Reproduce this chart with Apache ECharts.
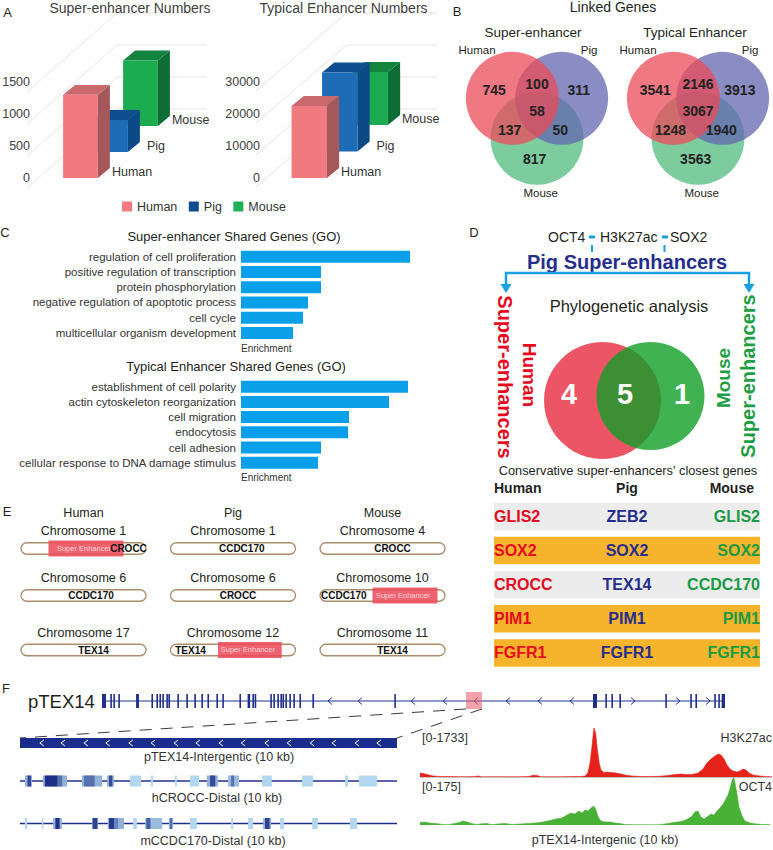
<!DOCTYPE html>
<html>
<head>
<meta charset="utf-8">
<script src="https://cdn.jsdelivr.net/npm/echarts@6.0.0/dist/echarts.min.js"></script>
<style>
html,body{margin:0;padding:0;background:#fff;}
#chart{width:773px;height:850px;}
</style>
</head>
<body>
<div id="chart"></div>
<script>
// ================= DATA =================
const species = ['Human', 'Pig', 'Mouse'];
const superEnhancerCounts = [1300, 500, 1025];
const typicalEnhancerCounts = [22500, 24700, 16600];
const superEnhancerTicks = [0, 500, 1000, 1500];
const typicalEnhancerTicks = [0, 10000, 20000, 30000];

// Venn regions: Human only, Human∩Pig, Pig only, all three, Human∩Mouse, Pig∩Mouse, Mouse only
const linkedGenesSuper = [745, 100, 311, 58, 137, 50, 817];
const linkedGenesTypical = [3541, 2146, 3913, 3067, 1248, 1940, 3563];

const goSuperTerms = ['regulation of cell proliferation', 'positive regulation of transcription', 'protein phosphorylation', 'negative regulation of apoptotic process', 'cell cycle', 'multicellular organism development'];
const goSuperEnrichment = [16.9, 8.0, 8.0, 6.7, 6.2, 5.2];
const goTypicalTerms = ['establishment of cell polarity', 'actin cytoskeleton reorganization', 'cell migration', 'endocytosis', 'cell adhesion', 'cellular response to DNA damage stimulus'];
const goTypicalEnrichment = [16.7, 14.8, 10.8, 10.7, 8.0, 7.7];

const phyloCounts = [4, 5, 1]; // human only, shared, mouse only
const closestHuman = ['GLIS2', 'SOX2', 'CROCC', 'PIM1', 'FGFR1'];
const closestPig = ['ZEB2', 'SOX2', 'TEX14', 'PIM1', 'FGFR1'];
const closestMouse = ['GLIS2', 'SOX2', 'CCDC170', 'PIM1', 'FGFR1'];

const chromHuman = ['Chromosome 1', 'Chromosome 6', 'Chromosome 17'];
const chromPig = ['Chromosome 1', 'Chromosome 6', 'Chromosome 12'];
const chromMouse = ['Chromosome 4', 'Chromosome 10', 'Chromosome 11'];
const chromGeneHuman = ['CROCC', 'CCDC170', 'TEX14'];
const chromGenePig = ['CCDC170', 'CROCC', 'TEX14'];
const chromGeneMouse = ['CROCC', 'CCDC170', 'TEX14'];
const chromGenePosHuman = [0.86, 0.56, 0.58];
const chromGenePosPig = [0.57, 0.54, 0.16];
const chromGenePosMouse = [0.58, 0.19, 0.58];
const chromSEHuman = [[0.22, 0.82], null, null];
const chromSEPig = [null, null, [0.38, 0.89]];
const chromSEMouse = [null, [0.42, 0.94], null];

const tex14Length = 389.4; // kb
const tex14Exons = [[0,2.5],[5.2,6.1],[7.1,8.0],[10.2,11.1],[21.3,23.1],[30.9,31.8],[34.0,34.9],[35.9,36.8],[37.7,38.6],[40.2,41.1],[41.5,42.4],[47.1,48.0],[52.7,53.6],[57.7,58.6],[62.1,63.0],[65.9,66.8],[71.5,72.4],[75.2,76.1],[85.9,86.8],[91.0,92.6],[94.0,94.9],[95.4,96.3],[105.2,106.1],[107.1,108.0],[109.6,110.5],[111.5,112.4],[112.8,113.7],[114.6,115.5],[117.1,118.0],[119.6,120.5],[123.4,124.3],[131.5,132.4],[182.7,183.6],[306.9,309.4],[314.6,315.5],[318.4,319.3],[323.4,324.3],[352.1,353.0],[367.7,368.6],[370.9,371.8],[382.7,383.6],[385.2,386.1],[387.3,389.4]];
const tex14ReverseMarks = [142.5, 161.3, 194.4, 214.4, 233.8, 253.8, 273.8, 293.8];
const tex14ForwardMarks = [331.9, 360.0, 378.8];
const zoomedRegion = [227.5, 237.5];
const intergenicMarks = [0.58, 1.14, 1.75, 2.33, 2.94, 3.53, 4.14, 4.72, 5.33, 5.92, 6.55, 7.14, 7.75, 8.33, 8.94, 9.52];
const hCroccBlocks = [[0.13,0.32,0.25],[0.2,0.29,0.85],[0.61,1.25,0.25],[0.66,1.0,0.95],[1.0,1.12,0.6],[1.64,2.18,0.25],[1.7,1.98,0.6],[2.31,2.49,0.25],[2.36,2.45,0.8],[2.92,3.21,0.05],[3.47,3.53,0.05],[4.11,4.16,0.05],[4.51,4.75,0.05],[4.96,5.25,0.25],[5.04,5.18,0.8],[5.52,5.81,0.2],[5.6,5.68,0.6],[6.42,6.68,0.05],[7.48,7.77,0.05],[8.62,8.7,0.05],[8.99,9.47,0.05]];
const mCcdcBlocks = [[0.13,0.19,0.05],[0.58,0.62,0.05],[0.88,1.11,0.25],[0.94,1.05,0.95],[1.91,2.07,0.3],[1.93,2.05,0.85],[2.33,2.76,0.25],[2.36,2.5,0.9],[2.5,2.6,0.5],[3.0,3.1,0.05],[3.32,3.77,0.2],[3.35,3.46,0.7],[3.95,4.06,0.25],[3.98,4.03,0.65],[4.51,4.69,0.05],[5.6,5.65,0.05],[6.05,6.18,0.05],[6.45,6.66,0.25],[6.5,6.62,0.85],[6.9,7.0,0.05],[7.75,7.9,0.05],[8.75,8.94,0.05]];
const h3k27acSignal = [[0,140],[0.09,124],[0.2,88],[0.34,42],[0.51,21],[0.85,14],[1.28,11],[1.55,14],[1.65,35],[1.76,7],[2.27,11],[2.84,11],[3.1,18],[3.21,64],[3.32,53],[3.44,11],[3.98,11],[4.55,18],[4.69,35],[4.77,140],[4.83,495],[4.89,1130],[4.94,1733],[4.99,1556],[5.03,1060],[5.09,495],[5.14,248],[5.23,160],[5.31,177],[5.43,160],[5.57,140],[5.71,106],[5.85,64],[6.02,35],[6.25,18],[6.53,14],[6.82,28],[7.05,53],[7.24,88],[7.39,106],[7.56,88],[7.73,88],[7.9,140],[8.04,283],[8.15,495],[8.27,637],[8.38,743],[8.47,814],[8.55,778],[8.64,637],[8.72,424],[8.81,283],[8.89,212],[9.0,177],[9.09,212],[9.18,283],[9.26,248],[9.35,140],[9.46,71],[9.6,42],[9.8,21],[10,11]];
const oct4Signal = [[0,9],[0.14,11],[0.28,7],[0.45,5.5],[0.63,2],[0.8,1],[0.99,5.5],[1.11,9],[1.22,14.6],[1.34,11],[1.45,5.5],[1.6,2],[1.76,4.4],[1.9,5.5],[2.05,1],[2.19,3.6],[2.41,5.5],[2.61,2],[2.84,3.6],[3.07,5.5],[3.3,7.3],[3.49,11],[3.69,16.4],[3.86,22],[4.03,25.5],[4.18,36.5],[4.29,43.8],[4.4,40],[4.52,51],[4.6,43.8],[4.69,54.7],[4.77,51],[4.86,62],[4.94,69],[5.0,54.7],[5.06,29],[5.14,14.6],[5.26,11],[5.4,11],[5.54,7.3],[5.68,5.5],[5.82,2],[6.1,1],[6.5,0.7],[6.8,1],[7.05,5.5],[7.19,9],[7.33,11],[7.47,14.6],[7.61,22],[7.73,33],[7.81,47.4],[7.9,51],[7.98,29],[8.07,22],[8.15,29],[8.27,40],[8.35,36.5],[8.44,51],[8.52,62],[8.61,76.6],[8.69,94.8],[8.75,109],[8.81,135],[8.86,160],[8.91,175],[8.95,153],[9.01,109],[9.06,65.6],[9.15,33],[9.23,14.6],[9.38,7.3],[9.55,3.6],[9.72,1.8],[9.94,1.8]];

// ================= STYLE / LAYOUT =================
const FONT = "'Liberation Sans', Arial, Helvetica, sans-serif";
const NARROW = "'Liberation Sans Narrow', 'Arial Narrow', 'Liberation Sans', Arial, sans-serif";
const INK = '#231F20';
const RED = '#E50A1E', NAVY = '#262E8C', GREEN = '#1E9E42';
const barFaces = [['#F07A7F', '#C9696D', '#A5585C'], ['#1E6BB6', '#0E4E90', '#0B4A86'], ['#1CAB50', '#12843E', '#0D6D35']];
const legendColors = ['#F07A7F', '#0F4C8E', '#1CB152'];
const vennFills = ['rgba(235,75,88,0.75)', 'rgba(99,102,176,0.75)', 'rgba(82,187,126,0.75)'];
const vennCenters = [[-0.53, 0.29], [0.53, 0.29], [0, -0.57]];
const vennRegionAnchors = [[-0.92, 0.47], [0, 0.6], [0.9, 0.47], [0, 0.02], [-0.59, -0.4], [0.5, -0.4], [-0.05, -1.02]];
const vennNameAnchors = [[-1.29, 1.33], [1.12, 1.33], [0.08, -1.75]];
const phyloCircles = [[-2.35, -0.25, 5.85], [2.45, 0.2, 5.4]];
const phyloFills = ['#EC5565', 'rgba(16,159,39,0.8)'];
const phyloAnchors = [[-5.7, 0.4], [-0.1, 0.4], [5.6, 0.4]];

const grids = [
  {id: 'aL', left: 65.5, top: 82, width: 90, height: 96},
  {id: 'aR', left: 294, top: 82, width: 91.5, height: 96},
  {id: 'bL', left: 462.6, top: 18.8, width: 148.8, height: 186},
  {id: 'bR', left: 623.6, top: 18.8, width: 148.8, height: 186},
  {id: 'c1', left: 241, top: 249, width: 170, height: 91.6},
  {id: 'c2', left: 241, top: 379.1, width: 170, height: 91.2},
  {id: 'dV', left: 566, top: 338, width: 120, height: 120},
  {id: 'dT', left: 494, top: 499.4, width: 266, height: 170.6},
  {id: 'e0', left: 21, top: 543.5, width: 448.5, height: 10},
  {id: 'e1', left: 21, top: 590.5, width: 448.5, height: 10},
  {id: 'e2', left: 21, top: 645, width: 448.5, height: 10},
  {id: 'fG', left: 102, top: 694, width: 623, height: 14},
  {id: 'fL1', left: 20, top: 738, width: 377, height: 10},
  {id: 'fL2', left: 20, top: 775.5, width: 377, height: 11},
  {id: 'fL3', left: 20, top: 818, width: 377, height: 11},
  {id: 'fH', left: 420, top: 728, width: 352, height: 49},
  {id: 'fO', left: 420, top: 777, width: 352, height: 48}
].map(g => Object.assign({containLabel: false, outerBoundsMode: 'none', show: false}, g));
const GI = {};
grids.forEach((g, i) => GI[g.id] = i);

function hidden(extra) {
  return Object.assign({show: false, axisLine: {show: false}, axisTick: {show: false}, axisLabel: {show: false}, splitLine: {show: false}}, extra);
}
const xAxes = [], yAxes = [];
function axes(id, x, y) {
  xAxes.push(Object.assign({gridIndex: GI[id]}, x));
  yAxes.push(Object.assign({gridIndex: GI[id]}, y));
}
const yLabel = (margin) => ({show: true, axisLine: {show: false}, axisTick: {show: false}, splitLine: {show: false},
  axisLabel: {show: true, margin: margin, fontSize: 12.5, color: '#404040', fontFamily: FONT, formatter: v => String(v)}});
axes('aL', hidden({type: 'category', data: species}), Object.assign({type: 'value', min: 0, max: 1500, interval: 500}, yLabel(35.5)));
axes('aR', hidden({type: 'category', data: species}), Object.assign({type: 'value', min: 0, max: 30000, interval: 10000}, yLabel(34)));
axes('bL', hidden({type: 'value', min: -1.6, max: 1.6}), hidden({type: 'value', min: -2, max: 2}));
axes('bR', hidden({type: 'value', min: -1.6, max: 1.6}), hidden({type: 'value', min: -2, max: 2}));
const goY = (terms) => ({type: 'category', data: terms, inverse: true, show: true, axisLine: {show: false}, axisTick: {show: false}, splitLine: {show: false},
  axisLabel: {show: true, interval: 0, margin: 5, fontSize: 11.5, color: '#333', fontFamily: FONT}});
axes('c1', hidden({type: 'value', min: 0, max: 17}), goY(goSuperTerms));
axes('c2', hidden({type: 'value', min: 0, max: 17}), goY(goTypicalTerms));
axes('dV', hidden({type: 'value', min: -6, max: 6}), hidden({type: 'value', min: -6, max: 6}));
axes('dT', hidden({type: 'value', min: 0, max: 1}), hidden({type: 'category', inverse: true, data: closestHuman.map((g, i) => 'row' + i)}));
['e0', 'e1', 'e2'].forEach(id => axes(id, hidden({type: 'value', min: 0, max: 3}), hidden({type: 'value', min: 0, max: 1})));
axes('fG', hidden({type: 'value', min: 0, max: tex14Length}), hidden({type: 'value', min: 0, max: 1}));
['fL1', 'fL2', 'fL3'].forEach(id => axes(id, hidden({type: 'value', min: 0, max: 10}), hidden({type: 'value', min: 0, max: 1})));
axes('fH', {type: 'value', min: 0, max: 10, show: true, axisLine: {show: true, onZero: false, lineStyle: {color: '#C4C4C4', width: 1}}, axisTick: {show: false}, axisLabel: {show: false}, splitLine: {show: false}},
  hidden({type: 'value', min: 0, max: 1733}));
axes('fO', hidden({type: 'value', min: 0, max: 10}), hidden({type: 'value', min: 0, max: 175}));

function txtStyle(text, size, o) {
  o = o || {};
  return {text: text, fill: o.color || INK, fontSize: size, fontWeight: o.weight || 'normal', fontFamily: o.family || FONT,
    align: o.align || 'center', verticalAlign: 'middle', textAlign: o.align || 'center', textVerticalAlign: 'middle'};
}
const series = [];
function onGrid(id, s) {
  series.push(Object.assign({xAxisIndex: GI[id], yAxisIndex: GI[id], silent: true, animation: false}, s));
}

// ---------- Panel A: pseudo-3D bars ----------
function gridLines3D(params, api) {
  const v = api.value(1);
  const p = api.coord([0, v]);
  const band = api.size([1, 0])[0];
  const x0 = p[0] - band * 1.75, y0 = p[1] + 9;
  const x1 = p[0] + band * 1.22, y1 = p[1] - 69;
  const x2 = p[0] + band * 4.2;
  return {type: 'polyline', shape: {points: [[x0, y0], [x1, y1], [x2, y1]]}, style: {stroke: '#E3E3E3', lineWidth: 1, fill: null}};
}
function bar3D(params, api) {
  const cat = api.value(0), v = api.value(1);
  const band = api.size([1, 0])[0];
  const pTop = api.coord([cat, v]), pBot = api.coord([cat, 0]);
  const shift = -band * 0.867 * cat;
  const w = band * 1.16, dx = band * 0.4, dy = -band * 0.33;
  const xl = pTop[0] - w / 2, xr = pTop[0] + w / 2, yt = pTop[1] + shift, yb = pBot[1] + shift;
  const f = barFaces[cat];
  return {type: 'group', children: [
    {type: 'polygon', shape: {points: [[xr, yt], [xr + dx, yt + dy], [xr + dx, yb + dy], [xr, yb]]}, style: {fill: f[2]}},
    {type: 'polygon', shape: {points: [[xl, yt], [xl + dx, yt + dy], [xr + dx, yt + dy], [xr, yt]]}, style: {fill: f[1]}},
    {type: 'rect', shape: {x: xl, y: yt, width: w, height: yb - yt}, style: {fill: f[0]}},
    {type: 'text', x: xr + 14 + (cat === 1 ? 5 : 0), y: yb - 6, style: txtStyle(species[cat], 12.5, {align: 'left', color: '#333'})}
  ]};
}
[['aL', superEnhancerCounts, superEnhancerTicks], ['aR', typicalEnhancerCounts, typicalEnhancerTicks]].forEach(([id, vals, ticks]) => {
  onGrid(id, {type: 'custom', name: 'grid3d', renderItem: gridLines3D, data: ticks.map(t => [0, t]), z: 1});
  [2, 1, 0].forEach(i => onGrid(id, {type: 'custom', name: species[i], itemStyle: {color: legendColors[i]}, renderItem: bar3D, data: [[i, vals[i]]]}));
});

// ---------- Panel B: Venn diagrams ----------
function vennCircle(params, api) {
  const c = api.coord([api.value(0), api.value(1)]);
  const r = api.size([1, 1])[0];
  return {type: 'circle', shape: {cx: c[0], cy: c[1], r: r}, style: {fill: vennFills[api.value(2)]}};
}
[['bL', linkedGenesSuper], ['bR', linkedGenesTypical]].forEach(([id, vals]) => {
  onGrid(id, {type: 'custom', renderItem: vennCircle, data: [2, 1, 0].map(i => [vennCenters[i][0], vennCenters[i][1], i])});
  onGrid(id, {type: 'custom', z: 5, data: vals.map((v, i) => [vennRegionAnchors[i][0], vennRegionAnchors[i][1], v]),
    renderItem: (p, api) => {
      const c = api.coord([api.value(0), api.value(1)]);
      return {type: 'text', x: c[0], y: c[1], style: txtStyle(String(api.value(2)), 14, {weight: 'bold', color: '#222'})};
    }});
  onGrid(id, {type: 'custom', z: 5, data: species.map((s, i) => [vennNameAnchors[i][0], vennNameAnchors[i][1], i]),
    renderItem: (p, api) => {
      const c = api.coord([api.value(0), api.value(1)]);
      return {type: 'text', x: c[0], y: c[1], style: txtStyle(species[api.value(2)], 11.5, {color: INK})};
    }});
});

// ---------- Panel C: GO bars ----------
onGrid('c1', {type: 'bar', data: goSuperEnrichment, barWidth: 12, itemStyle: {color: '#0AA0E9'}});
onGrid('c2', {type: 'bar', data: goTypicalEnrichment, barWidth: 12, itemStyle: {color: '#0AA0E9'}});

// ---------- Panel D: phylogenetic Venn + table ----------
onGrid('dV', {type: 'custom', data: phyloCircles.map((c, i) => [c[0], c[1], c[2], i]),
  renderItem: (p, api) => {
    const c = api.coord([api.value(0), api.value(1)]);
    const r = api.size([api.value(2), api.value(2)])[0];
    return {type: 'circle', shape: {cx: c[0], cy: c[1], r: r}, style: {fill: phyloFills[api.value(3)]}};
  }});
onGrid('dV', {type: 'custom', z: 5, data: phyloCounts.map((v, i) => [phyloAnchors[i][0], phyloAnchors[i][1], v]),
  renderItem: (p, api) => {
    const c = api.coord([api.value(0), api.value(1)]);
    return {type: 'text', x: c[0], y: c[1], style: txtStyle(String(api.value(2)), 29, {weight: 'bold', color: '#fff'})};
  }});
onGrid('dT', {type: 'custom', data: closestHuman.map((g, i) => [0, i]),
  renderItem: (p, api) => {
    const i = api.value(1);
    const a = api.coord([0, i]), b = api.coord([1, i]), m = api.coord([0.5, i]);
    const yc = a[1];
    const conserved = closestHuman[i] === closestPig[i] && closestPig[i] === closestMouse[i];
    const kids = [
      {type: 'rect', shape: {x: a[0], y: yc - 13.75, width: b[0] - a[0], height: 27.5}, style: {fill: conserved ? '#F6B42C' : '#ECECEC'}},
      {type: 'text', x: a[0], y: yc, style: txtStyle(closestHuman[i], 16, {weight: 'bold', color: RED, align: 'left'})},
      {type: 'text', x: m[0], y: yc, style: txtStyle(closestPig[i], 16, {weight: 'bold', color: NAVY})},
      {type: 'text', x: b[0], y: yc, style: txtStyle(closestMouse[i], 16, {weight: 'bold', color: '#1A9A45', align: 'right'})}
    ];
    if (i === 0) {
      kids.push({type: 'text', x: a[0], y: yc - 28.5, style: txtStyle(species[0], 14, {weight: 'bold', align: 'left'})});
      kids.push({type: 'text', x: m[0], y: yc - 28.5, style: txtStyle(species[1], 14, {weight: 'bold'})});
      kids.push({type: 'text', x: b[0] - 6, y: yc - 28.5, style: txtStyle(species[2], 14, {weight: 'bold', align: 'right'})});
    }
    return {type: 'group', children: kids};
  }});

// ---------- Panel E: chromosome schematics ----------
const chromNames = [chromHuman, chromPig, chromMouse];
const chromGenes = [chromGeneHuman, chromGenePig, chromGeneMouse];
const chromGenePos = [chromGenePosHuman, chromGenePosPig, chromGenePosMouse];
const chromSE = [chromSEHuman, chromSEPig, chromSEMouse];
function chromRow(row) {
  return function (params, api) {
    const col = api.value(0);
    const a = api.coord([col, 0.5]), b = api.coord([col + 0.836, 0.5]);
    const w = b[0] - a[0], yc = a[1], h = 11.5;
    const kids = [{type: 'rect', shape: {x: a[0], y: yc - h / 2, width: w, height: h, r: h / 2}, style: {fill: '#fff', stroke: '#A98D6B', lineWidth: 1.3}}];
    const se = chromSE[col][row];
    if (se) {
      kids.push({type: 'rect', shape: {x: a[0] + se[0] * w, y: yc - 8, width: (se[1] - se[0]) * w, height: 16}, style: {fill: 'rgba(236,72,88,0.85)'}});
      kids.push({type: 'text', x: a[0] + (se[0] + se[1]) / 2 * w - 2, y: yc - 0.5, style: txtStyle('Super Enhancer', 7.5, {color: '#FBD5D8'})});
    }
    kids.push({type: 'text', x: a[0] + chromGenePos[col][row] * w, y: yc, style: txtStyle(chromGenes[col][row], 10, {weight: 'bold', family: NARROW, color: '#111'})});
    kids.push({type: 'text', x: a[0] + w / 2, y: yc - 17.5, style: txtStyle(chromNames[col][row], 12.5, {color: INK})});
    if (row === 0) kids.push({type: 'text', x: a[0] + w / 2, y: yc - 35.5, style: txtStyle(species[col], 12.5, {color: INK})});
    return {type: 'group', children: kids};
  };
}
['e0', 'e1', 'e2'].forEach((id, row) => onGrid(id, {type: 'custom', renderItem: chromRow(row), data: species.map((s, i) => [i, 0.5])}));

// ---------- Panel F: gene model and tracks ----------
function chevron(dir, color, hh) {
  return function (params, api) {
    const p = api.coord([api.value(0), 0.5]);
    const d = dir * 2;
    return {type: 'polyline', shape: {points: [[p[0] - d, p[1] - hh], [p[0] + d, p[1]], [p[0] - d, p[1] + hh]]}, style: {stroke: color, lineWidth: 1, fill: null}};
  };
}
function spanRect(fill, padTop, padBot, minW) {
  return function (params, api) {
    const s = api.value(0), e = api.value(1);
    const p0 = api.coord([s, 1]), p1 = api.coord([e, 0]);
    const w = Math.max(p1[0] - p0[0], minW);
    return {type: 'rect', shape: {x: p0[0], y: p0[1] - padTop, width: w, height: p1[1] - p0[1] + padTop + padBot}, style: {fill: typeof fill === 'function' ? fill(api) : fill}};
  };
}
const GENE_BLUE = '#23358E';
onGrid('fG', {type: 'line', data: [[0, 0.5], [tex14Length, 0.5]], symbol: 'none', lineStyle: {color: GENE_BLUE, width: 1.1}});
onGrid('fG', {type: 'custom', renderItem: chevron(-1, GENE_BLUE, 3.5), data: tex14ReverseMarks.map(x => [x, 0.5])});
onGrid('fG', {type: 'custom', renderItem: chevron(1, GENE_BLUE, 3.5), data: tex14ForwardMarks.map(x => [x, 0.5])});
onGrid('fG', {type: 'custom', renderItem: spanRect('#1F2E8A', 0, 0, 1.6), data: tex14Exons, encode: {x: [0, 1]}});
onGrid('fG', {type: 'custom', renderItem: spanRect('rgba(234,100,112,0.6)', 2, 1, 1), data: [zoomedRegion], encode: {x: [0, 1]}, z: 4});

onGrid('fL1', {type: 'custom', renderItem: spanRect('#1B2D8C', 0, 0, 1), data: [[0, 10]], encode: {x: [0, 1]}});
onGrid('fL1', {type: 'custom', renderItem: chevron(-1, '#ffffff', 3), data: intergenicMarks.map(x => [x, 0.5]), z: 4});

function mixBlue(t) {
  const L = [186, 224, 245], D = [22, 38, 130];
  return 'rgb(' + L.map((c, k) => Math.round(c + (D[k] - c) * t)).join(',') + ')';
}
[['fL2', hCroccBlocks], ['fL3', mCcdcBlocks]].forEach(([id, blocks]) => {
  onGrid(id, {type: 'line', data: [[0, 0.5], [10, 0.5]], symbol: 'none', lineStyle: {color: '#1F2E8A', width: 1.3}});
  onGrid(id, {type: 'custom', renderItem: spanRect(api => mixBlue(api.value(2)), 0, 0, 1.2), data: blocks, encode: {x: [0, 1]}, z: 4});
});
onGrid('fH', {type: 'line', data: h3k27acSignal, symbol: 'none', lineStyle: {color: '#E5231B', width: 0.6}, areaStyle: {color: '#E5231B', opacity: 1}});
onGrid('fO', {type: 'line', data: oct4Signal, symbol: 'none', lineStyle: {color: '#49B136', width: 0.6}, areaStyle: {color: '#49B136', opacity: 1}});

// ================= TEXT & DECORATION =================
function T(x, y, text, size, o) {
  o = o || {};
  return {type: 'text', x: x, y: y, rotation: o.rotation || 0, z: 100, silent: true, style: txtStyle(text, size, o)};
}
const CYAN = '#1AA0E0';
const fG = grids[GI.fG], fL1 = grids[GI.fL1];
const gx = kb => fG.left + kb / tex14Length * fG.width;
const graphics = [
  T(7.5, 12.5, 'A', 13),
  T(130, 8, 'Super-enhancer Numbers', 14, {color: '#404040'}),
  T(343.5, 8, 'Typical Enhancer Numbers', 14, {color: '#404040'}),
  T(457, 11, 'B', 13),
  T(613, 7, 'Linked Genes', 14),
  T(533, 32, 'Super-enhancer', 13.5),
  T(695, 32, 'Typical Enhancer', 13.5),
  T(5, 232, 'C', 13),
  T(234, 236.7, 'Super-enhancer Shared Genes (GO)', 13),
  T(236, 366.7, 'Typical Enhancer Shared Genes (GO)', 13),
  T(241, 348.5, 'Enrichment', 10, {align: 'left', color: '#333'}),
  T(241, 477.5, 'Enrichment', 10, {align: 'left', color: '#333'}),
  T(474, 232, 'D', 13),
  T(548, 237, 'OCT4', 14, {align: 'left'}),
  {type: 'rect', z: 100, shape: {x: 589, y: 235.5, width: 6, height: 3}, style: {fill: CYAN}},
  {type: 'rect', z: 100, shape: {x: 591, y: 245, width: 2, height: 7}, style: {fill: CYAN}},
  T(600, 237, 'H3K27ac', 14, {align: 'left'}),
  {type: 'rect', z: 100, shape: {x: 662, y: 235.5, width: 6, height: 3}, style: {fill: CYAN}},
  {type: 'rect', z: 100, shape: {x: 663.5, y: 245, width: 2, height: 7}, style: {fill: CYAN}},
  T(670, 237, 'SOX2', 14, {align: 'left'}),
  T(627, 262, 'Pig Super-enhancers', 20, {weight: 'bold', color: NAVY}),
  {type: 'polyline', z: 100, shape: {points: [[506, 286], [506, 273], [749, 273], [749, 286]]}, style: {stroke: CYAN, lineWidth: 2.5, fill: null}},
  {type: 'polygon', z: 100, shape: {points: [[500.5, 284], [511.5, 284], [506, 293]]}, style: {fill: CYAN}},
  {type: 'polygon', z: 100, shape: {points: [[743.5, 284], [754.5, 284], [749, 293]]}, style: {fill: CYAN}},
  T(629, 306, 'Phylogenetic analysis', 16.5),
  T(505, 377, 'Super-enhancers', 20, {weight: 'bold', color: RED, rotation: -Math.PI / 2}),
  T(529, 375, 'Human', 19, {weight: 'bold', color: RED, rotation: -Math.PI / 2}),
  T(723, 378, 'Mouse', 19, {weight: 'bold', color: GREEN, rotation: Math.PI / 2}),
  T(748, 376, 'Super-enhancers', 20, {weight: 'bold', color: GREEN, rotation: Math.PI / 2}),
  T(628, 470, "Conservative super-enhancers' closest genes", 12.8),
  T(7, 511, 'E', 13),
  T(6, 688, 'F', 13),
  T(28, 701, 'pTEX14', 18.5, {align: 'left'}),
  {type: 'line', z: 100, shape: {x1: gx(zoomedRegion[0]), y1: fG.top + fG.height + 1, x2: fL1.left, y2: fL1.top}, style: {stroke: '#3A3A3A', lineWidth: 1, lineDash: [12, 9]}},
  {type: 'line', z: 100, shape: {x1: gx(zoomedRegion[1]), y1: fG.top + fG.height + 1, x2: fL1.left + fL1.width, y2: fL1.top}, style: {stroke: '#3A3A3A', lineWidth: 1, lineDash: [12, 9]}},
  T(219, 757, 'pTEX14-Intergentic (10 kb)', 12.5, {color: '#333'}),
  T(217, 798, 'hCROCC-Distal (10 kb)', 12.5, {color: '#333'}),
  T(213, 841, 'mCCDC170-Distal (10 kb)', 12.5, {color: '#333'}),
  T(422, 738, '[0-1733]', 12.5, {align: 'left', color: '#333'}),
  T(772, 738, 'H3K27ac', 12.5, {align: 'right', color: '#333'}),
  T(422, 787, '[0-175]', 12.5, {align: 'left', color: '#333'}),
  T(772, 787, 'OCT4', 12.5, {align: 'right', color: '#333'}),
  T(605, 840, 'pTEX14-Intergenic (10 kb)', 12.5, {color: '#333'})
];

const option = {
  backgroundColor: '#ffffff',
  animation: false,
  textStyle: {fontFamily: FONT},
  legend: {data: species, left: 117, top: 195, icon: 'rect', itemWidth: 10, itemHeight: 10, itemGap: 11.5, selectedMode: false,
    textStyle: {fontSize: 12.5, color: '#333', fontFamily: FONT}},
  grid: grids,
  xAxis: xAxes,
  yAxis: yAxes,
  series: series,
  graphic: {elements: graphics}
};
const chart = echarts.init(document.getElementById('chart'), null, {renderer: 'svg', width: 773, height: 850});
chart.setOption(option);
</script>
</body>
</html>
